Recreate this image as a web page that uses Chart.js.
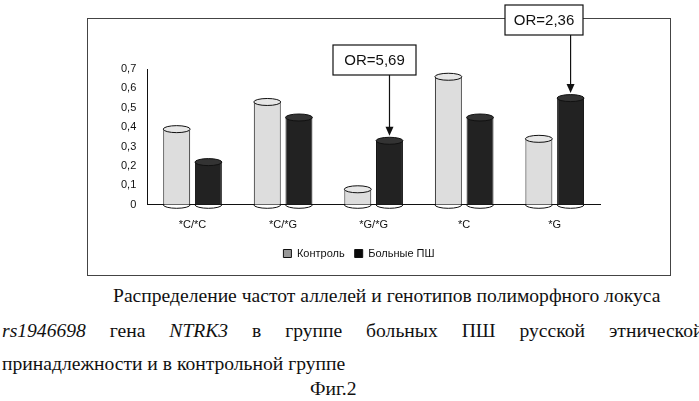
<!DOCTYPE html>
<html><head><meta charset="utf-8">
<script src="https://cdn.jsdelivr.net/npm/chart.js@4/dist/chart.umd.min.js"></script>
<style>
body{margin:0;background:#fff;width:699px;height:401px;overflow:hidden;position:relative;font-family:"Liberation Serif",serif;}
#frame{position:absolute;left:87px;top:18px;width:582px;height:256px;border:1px solid #444;}
#wrap{position:absolute;left:88px;top:0;width:582px;height:275px;}
.t{position:absolute;font-size:19.6px;color:#111;white-space:nowrap;}
</style></head><body>
<div id="frame"></div>
<div id="wrap"><canvas id="c" width="582" height="275"></canvas></div>
<div class="t" style="left:113px;top:285px;">Распределение частот аллелей и генотипов полиморфного локуса</div>
<div class="t" style="left:2px;top:320px;word-spacing:19px;"><i>rs1946698</i> гена <i>NTRK3</i> в группе больных ПШ русской этнической</div>
<div class="t" style="left:2px;top:353px;">принадлежности и в контрольной группе</div>
<div class="t" style="left:310px;top:378px;">Фиг.2</div>
<script>
const categories=["*C/*C","*C/*G","*G/*G","*C","*G"];
const control=[0.39,0.53,0.08,0.66,0.34];
const patients=[0.22,0.45,0.33,0.45,0.55];
const yTicks=[0,0.1,0.2,0.3,0.4,0.5,0.6,0.7];
const notes=[{label:"OR=5,69",cat:2,ds:1,box:[245,45,83,30]},{label:"OR=2,36",cat:4,ds:1,box:[417,5,78,30]}];
const plug={id:'p',afterDatasetsDraw(ch){
 const ctx=ch.ctx;
 ch.data.datasets.forEach((d,i)=>{ch.getDatasetMeta(i).data.forEach(b=>{
  const w=b.width, x=b.x, y=b.y;
  ctx.save();ctx.fillStyle=i==0?'#e6e6e6':'#333';ctx.strokeStyle='#111';ctx.lineWidth=1;
  ctx.beginPath();ctx.ellipse(x,y,w/2,3.5,0,0,2*Math.PI);ctx.fill();ctx.stroke();
  ctx.beginPath();ctx.ellipse(x,b.base,w/2,3.5,0,0,Math.PI);ctx.stroke();
  ctx.restore();});});
 notes.forEach(n=>{const b=ch.getDatasetMeta(n.ds).data[n.cat];const [bx,by,bw,bh]=n.box;
  ctx.save();ctx.fillStyle='#fff';ctx.strokeStyle='#111';ctx.lineWidth=1.2;ctx.fillRect(bx,by,bw,bh);ctx.strokeRect(bx,by,bw,bh);
  ctx.fillStyle='#111';ctx.font='15px "Liberation Sans"';ctx.textAlign='center';ctx.textBaseline='middle';ctx.fillText(n.label,bx+bw/2,by+bh/2+1);
  ctx.beginPath();ctx.moveTo(b.x,by+bh);ctx.lineTo(b.x,b.y-12);ctx.stroke();
  ctx.beginPath();ctx.moveTo(b.x,b.y-5);ctx.lineTo(b.x-4,b.y-14);ctx.lineTo(b.x+4,b.y-14);ctx.closePath();ctx.fill();ctx.restore();});
}};
new Chart(document.getElementById('c'),{type:'bar',
 data:{labels:categories,datasets:[
  {label:'Контроль',data:control,backgroundColor:c=>{const b=c.element;if(!b||!b.width)return '#ddd';const g=c.chart.ctx.createLinearGradient(b.x-b.width/2,0,b.x+b.width/2,0);g.addColorStop(0,'#aaa');g.addColorStop(0.45,'#f4f4f4');g.addColorStop(1,'#999');return g;},borderColor:'#111',borderWidth:1},
  {label:'Больные ПШ',data:patients,backgroundColor:c=>{const b=c.element;if(!b||!b.width)return '#222';const g=c.chart.ctx.createLinearGradient(b.x-b.width/2,0,b.x+b.width/2,0);g.addColorStop(0,'#111');g.addColorStop(0.45,'#444');g.addColorStop(1,'#0a0a0a');return g;},borderColor:'#111',borderWidth:1}]},
 options:{responsive:false,animation:false,devicePixelRatio:1,
  layout:{padding:{left:30,right:70,top:69,bottom:6}},
  scales:{y:{min:0,max:0.7,afterBuildTicks:s=>{s.ticks=yTicks.map(v=>({value:v}));},
    ticks:{color:'#111',font:{family:'Liberation Sans',size:11},callback:v=>String(v).replace('.',',')},
    grid:{display:false},border:{color:'#111'}},
   x:{ticks:{color:'#111',font:{family:'Liberation Sans',size:11},padding:6},grid:{display:false},border:{color:'#111'}}},
  datasets:{bar:{categoryPercentage:0.7,barPercentage:0.85}},
  plugins:{legend:{position:'bottom',labels:{color:'#111',boxWidth:8,boxHeight:8,font:{family:'Liberation Sans',size:11}}},tooltip:{enabled:false}}},
 plugins:[plug]});
</script></body></html>
